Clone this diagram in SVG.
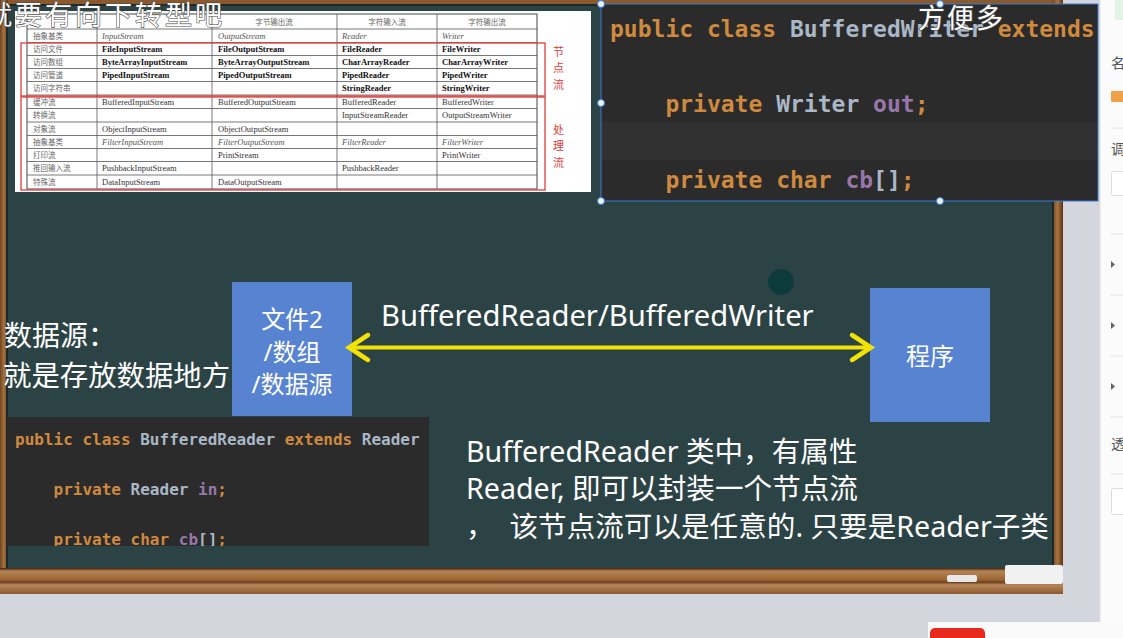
<svg xmlns="http://www.w3.org/2000/svg" width="1123" height="638" viewBox="0 0 1123 638">
<defs>
<linearGradient id="woodV" x1="0" y1="0" x2="1" y2="0">
<stop offset="0" stop-color="#6e4421"/><stop offset="0.5" stop-color="#a9743f"/><stop offset="1" stop-color="#5a3516"/>
</linearGradient>
<linearGradient id="tray" x1="0" y1="0" x2="0" y2="1">
<stop offset="0" stop-color="#3a2412"/><stop offset="0.12" stop-color="#b58352"/><stop offset="0.45" stop-color="#9a6535"/><stop offset="0.55" stop-color="#6b4220"/><stop offset="0.65" stop-color="#b8875a"/><stop offset="1" stop-color="#8a5a2e"/>
</linearGradient>
<clipPath id="clipTR"><rect x="601" y="4" width="497" height="197"/></clipPath>
<clipPath id="clipBL"><rect x="7" y="417" width="422" height="129"/></clipPath>
<clipPath id="clipRP"><rect x="1100" y="0" width="23" height="638"/></clipPath>
</defs>
<style>
.cn{font-family:"Noto Sans","Noto Sans CJK SC",sans-serif;fill:#ffffff}
.tc{font-family:"Noto Sans CJK SC",sans-serif;font-size:7.5px;fill:#666}
.tt{font-family:"Liberation Serif",serif;font-size:8.5px;fill:#333}
.tb{font-family:"Liberation Serif",serif;font-size:8.5px;fill:#111;font-weight:bold}
.ti{font-family:"Liberation Serif",serif;font-size:8.5px;fill:#555;font-style:italic}
.grid line{stroke:#555;stroke-width:0.8}
.code{font-family:"DejaVu Sans Mono",monospace;font-weight:bold}
.kw{fill:#cf8a3f}
.cl{fill:#a9b7c6}
.fd{fill:#9876aa}
.red{font-family:"Noto Sans CJK SC",sans-serif;font-size:11px;fill:#e03a3a}
.ui{font-family:"Noto Sans CJK SC",sans-serif;font-size:14px;fill:#555}
.sep{stroke:#e6e6e6;stroke-width:1}
.handle{fill:#eaf3ff;stroke:#3a7bd5;stroke-width:1}
.sub{font-family:"Noto Sans CJK SC",sans-serif;fill:#ffffff;stroke:#4a4a4a;stroke-width:1.2;paint-order:stroke}
</style>

<!-- page background -->
<rect x="0" y="0" width="1123" height="638" fill="#d3d6dc"/>

<!-- chalkboard frame -->
<g id="board">
<rect x="0" y="0" width="1063" height="10" fill="#8a5a2e"/>
<rect x="0" y="0" width="8" height="580" fill="url(#woodV)"/>
<rect x="1052" y="0" width="11" height="580" fill="url(#woodV)"/>
<rect x="7" y="5" width="1046" height="565" fill="#2c4345"/>
<rect x="7" y="5" width="1046" height="565" fill="none" stroke="#1c2a2b" stroke-width="2"/>
<rect x="0" y="568" width="1063" height="26" fill="url(#tray)"/>
<rect x="1005" y="565" width="58" height="19" fill="#f1f1f1" rx="2"/>
<rect x="947" y="575" width="30" height="7" fill="#e8e8e8" rx="2"/>
</g>

<!-- right panel -->
<g id="side-panel">
<rect x="1100" y="0" width="23" height="622" fill="#fbfbfb"/>
<line x1="1100" y1="0" x2="1100" y2="622" stroke="#e0e0e0"/>
<g clip-path="url(#clipRP)">
<rect x="1115" y="0" width="10" height="20" fill="#e3f3e6"/>
<text x="1111" y="68" class="ui">名</text>
<rect x="1111" y="91" width="14" height="11" fill="#f0a046" rx="1"/>
<line x1="1110" y1="128" x2="1123" y2="128" class="sep"/>
<text x="1111" y="154" class="ui">调</text>
<rect x="1111.5" y="171.5" width="20" height="24" fill="#fff" stroke="#dcdcdc" rx="2"/>
<line x1="1110" y1="234" x2="1123" y2="234" class="sep"/>
<path d="M1111,261 L1115,264.5 L1111,268 Z" fill="#666"/>
<line x1="1110" y1="295" x2="1123" y2="295" class="sep"/>
<path d="M1111,322 L1115,325.5 L1111,329 Z" fill="#666"/>
<line x1="1110" y1="356" x2="1123" y2="356" class="sep"/>
<path d="M1111,383 L1115,386.5 L1111,390 Z" fill="#666"/>
<line x1="1110" y1="417" x2="1123" y2="417" class="sep"/>
<text x="1111" y="449" class="ui">透</text>
<line x1="1110" y1="474" x2="1123" y2="474" class="sep"/>
<rect x="1111.5" y="488.5" width="20" height="26" fill="#fff" stroke="#dcdcdc" rx="2"/>
</g>
<rect x="928" y="622" width="195" height="16" fill="#fafafa"/>
<rect x="930" y="628" width="55" height="14" fill="#e8291e" rx="5"/>
</g>

<!-- stream table -->
<g id="stream-table">
<rect x="15" y="11" width="576" height="181" fill="#ffffff"/>
<g class="grid">
<rect x="27" y="14" width="510" height="175" fill="none" stroke="#444" stroke-width="1"/>
<line x1="97" y1="14" x2="97" y2="189"/>
<line x1="212" y1="14" x2="212" y2="189"/>
<line x1="337" y1="14" x2="337" y2="189"/>
<line x1="437" y1="14" x2="437" y2="189"/>
<line x1="27" y1="29" x2="537" y2="29"/>
<line x1="27" y1="42.5" x2="537" y2="42.5"/>
<line x1="27" y1="55.5" x2="537" y2="55.5"/>
<line x1="27" y1="68.5" x2="537" y2="68.5"/>
<line x1="27" y1="81.5" x2="537" y2="81.5"/>
<line x1="27" y1="95" x2="537" y2="95"/>
<line x1="27" y1="108.5" x2="537" y2="108.5"/>
<line x1="27" y1="122" x2="537" y2="122"/>
<line x1="27" y1="135.5" x2="537" y2="135.5"/>
<line x1="27" y1="148.5" x2="537" y2="148.5"/>
<line x1="27" y1="161.5" x2="537" y2="161.5"/>
<line x1="27" y1="175" x2="537" y2="175"/>
</g>
<text x="274" y="25" class="tc" text-anchor="middle">字节输出流</text>
<text x="387" y="25" class="tc" text-anchor="middle">字符输入流</text>
<text x="487" y="25" class="tc" text-anchor="middle">字符输出流</text>

<text x="33" y="39" class="tc">抽象基类</text>
<text x="102" y="39" class="ti">InputStream</text><text x="218" y="39" class="ti">OutputStream</text><text x="342" y="39" class="ti">Reader</text><text x="442" y="39" class="ti">Writer</text>

<text x="33" y="52" class="tc">访问文件</text>
<text x="102" y="52" class="tb">FileInputStream</text><text x="218" y="52" class="tb">FileOutputStream</text><text x="342" y="52" class="tb">FileReader</text><text x="442" y="52" class="tb">FileWriter</text>

<text x="33" y="65" class="tc">访问数组</text>
<text x="102" y="65" class="tb">ByteArrayInputStream</text><text x="218" y="65" class="tb">ByteArrayOutputStream</text><text x="342" y="65" class="tb">CharArrayReader</text><text x="442" y="65" class="tb">CharArrayWriter</text>

<text x="33" y="78" class="tc">访问管道</text>
<text x="102" y="78" class="tb">PipedInputStream</text><text x="218" y="78" class="tb">PipedOutputStream</text><text x="342" y="78" class="tb">PipedReader</text><text x="442" y="78" class="tb">PipedWriter</text>

<text x="33" y="91" class="tc">访问字符串</text>
<text x="342" y="91" class="tb">StringReader</text><text x="442" y="91" class="tb">StringWriter</text>

<text x="33" y="105" class="tc">缓冲流</text>
<text x="102" y="105" class="tt">BufferedInputStream</text><text x="218" y="105" class="tt">BufferedOutputStream</text><text x="342" y="105" class="tt">BufferedReader</text><text x="442" y="105" class="tt">BufferedWriter</text>

<text x="33" y="118" class="tc">转换流</text>
<text x="342" y="118" class="tt">InputStreamReader</text><text x="442" y="118" class="tt">OutputStreamWriter</text>

<text x="33" y="132" class="tc">对象流</text>
<text x="102" y="132" class="tt">ObjectInputStream</text><text x="218" y="132" class="tt">ObjectOutputStream</text>

<text x="33" y="145" class="tc">抽象基类</text>
<text x="102" y="145" class="ti">FilterInputStream</text><text x="218" y="145" class="ti">FilterOutputStream</text><text x="342" y="145" class="ti">FilterReader</text><text x="442" y="145" class="ti">FilterWriter</text>

<text x="33" y="158" class="tc">打印流</text>
<text x="218" y="158" class="tt">PrintStream</text><text x="442" y="158" class="tt">PrintWriter</text>

<text x="33" y="171" class="tc">推回输入流</text>
<text x="102" y="171" class="tt">PushbackInputStream</text><text x="342" y="171" class="tt">PushbackReader</text>

<text x="33" y="185" class="tc">特殊流</text>
<text x="102" y="185" class="tt">DataInputStream</text><text x="218" y="185" class="tt">DataOutputStream</text>

<rect x="21" y="43" width="524" height="53" fill="none" stroke="#e03a3a" stroke-width="1.3"/>
<rect x="21" y="97" width="524" height="93" fill="none" stroke="#e03a3a" stroke-width="1.3"/>
<text x="553" y="56" class="red">节</text>
<text x="553" y="72" class="red">点</text>
<text x="553" y="89" class="red">流</text>
<text x="553" y="134" class="red">处</text>
<text x="553" y="150" class="red">理</text>
<text x="553" y="167" class="red">流</text>
</g>

<!-- subtitle -->
<text x="-15" y="25" class="sub" font-size="27" letter-spacing="3">就要有向下转型吧</text>

<!-- top-right code -->
<g id="code-writer">
<rect x="601" y="4" width="497" height="197" fill="#2b2b2b"/>
<rect x="601" y="122" width="497" height="38" fill="#313131"/>
<g clip-path="url(#clipTR)" class="code" font-size="23">
<text x="610" y="37" xml:space="preserve"><tspan class="kw">public class </tspan><tspan class="cl">BufferedWriter </tspan><tspan class="kw">extends</tspan></text>
<text x="610" y="112" xml:space="preserve"><tspan class="kw">    private </tspan><tspan class="cl">Writer </tspan><tspan class="fd">out</tspan><tspan class="kw">;</tspan></text>
<text x="610" y="188" xml:space="preserve"><tspan class="kw">    private char </tspan><tspan class="fd">cb</tspan><tspan class="cl">[]</tspan><tspan class="kw">;</tspan></text>
</g>
<rect x="601" y="4" width="497" height="197" fill="none" stroke="#3a7bd5" stroke-width="1"/>
<circle cx="601" cy="4" r="3.5" class="handle"/>
<circle cx="601" cy="103" r="3.5" class="handle"/>
<circle cx="601" cy="201" r="3.5" class="handle"/>
<circle cx="940" cy="201" r="3.5" class="handle"/>
<circle cx="940" cy="4" r="3.5" class="handle"/>
</g>

<text x="918" y="28" class="sub" font-size="27" letter-spacing="2">方便多</text>

<!-- cursor dot -->
<circle cx="781" cy="282" r="13" fill="#0d3b3c"/>

<!-- left label -->
<g id="label-source">
<text x="4" y="346" class="cn" font-size="28">数据源：</text>
<text x="3" y="386" class="cn" font-size="28.4">就是存放数据地方</text>
</g>

<!-- nodes -->
<g id="node-file">
<rect x="232" y="282" width="120" height="134" fill="#5883d1"/>
<text x="292" y="328" class="cn" font-size="24" text-anchor="middle">文件2</text>
<text x="292" y="361" class="cn" font-size="24" text-anchor="middle">/数组</text>
<text x="292" y="393" class="cn" font-size="24" text-anchor="middle">/数据源</text>
</g>
<g id="node-program">
<rect x="870" y="288" width="120" height="134" fill="#5883d1"/>
<text x="930" y="365" class="cn" font-size="24" text-anchor="middle">程序</text>
</g>

<!-- connectors -->
<g id="connectors">
<line x1="350" y1="347.5" x2="870" y2="347.5" stroke="#f2e205" stroke-width="4"/>
<polyline points="368,335 349,347.5 368,360" fill="none" stroke="#f2e205" stroke-width="4.5" stroke-linecap="round"/>
<polyline points="852,335 871,347.5 852,360" fill="none" stroke="#f2e205" stroke-width="4.5" stroke-linecap="round"/>
<text x="381" y="326" class="cn" font-size="29.2">BufferedReader/BufferedWriter</text>
</g>

<!-- bottom-left code -->
<g id="code-reader">
<rect x="7" y="417" width="422" height="129" fill="#2b2b2b"/>
<g clip-path="url(#clipBL)" class="code" font-size="16">
<text x="15" y="445" xml:space="preserve"><tspan class="kw">public class </tspan><tspan class="cl">BufferedReader </tspan><tspan class="kw">extends </tspan><tspan class="cl">Reader ·</tspan></text>
<text x="15" y="495" xml:space="preserve"><tspan class="kw">    private </tspan><tspan class="cl">Reader </tspan><tspan class="fd">in</tspan><tspan class="kw">;</tspan></text>
<text x="15" y="545" xml:space="preserve"><tspan class="kw">    private char </tspan><tspan class="fd">cb</tspan><tspan class="cl">[]</tspan><tspan class="kw">;</tspan></text>
</g>
</g>

<!-- explanation -->
<g id="note">
<text x="466" y="462" class="cn" font-size="28.6">BufferedReader 类中，有属性</text>
<text x="466" y="499" class="cn" font-size="28.6">Reader, 即可以封装一个节点流</text>
<text x="466" y="537" class="cn" font-size="28.6" xml:space="preserve">，  该节点流可以是任意的. 只要是Reader子类</text>
</g>
</svg>
